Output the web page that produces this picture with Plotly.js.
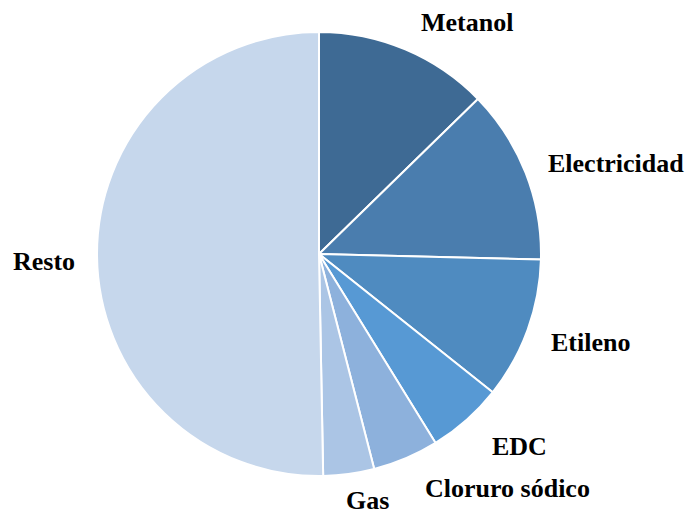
<!DOCTYPE html>
<html>
<head>
<meta charset="utf-8">
<script src="https://cdn.plot.ly/plotly-3.0.1.min.js"></script>
<style>html,body{margin:0;padding:0;background:#fff;}#chart{width:686px;height:515px;}</style>
</head>
<body>
<div id="chart"></div>
<script>
const categories = ["Metanol", "Electricidad", "Etileno", "EDC", "Cloruro sódico", "Gas", "Resto"];
const values = [12.7, 12.7, 10.3, 5.5, 4.8, 3.7, 50.3];
const colors = ["#3E6A94", "#4A7DAE", "#4F8BC0", "#5799D4", "#8DB1DC", "#ABC5E5", "#C6D7EC"];
// label anchor positions in pixels (x, y)
const labelPx = [[467, 22], [616, 163], [590, 342], [519, 446], [507, 488], [367, 500], [44, 261]];

const W = 686, H = 515;
const annotations = categories.map((c, i) => ({
  text: "<b>" + c + "</b>",
  x: labelPx[i][0] / W, y: 1 - labelPx[i][1] / H,
  xref: "paper", yref: "paper", showarrow: false,
  xanchor: "center", yanchor: "middle",
  borderpad: 0,
  font: {family: "Times New Roman, Liberation Serif, serif", size: 26, color: "#000"}
}));

Plotly.newPlot("chart", [{
  type: "pie",
  labels: categories,
  values: values,
  sort: false,
  direction: "clockwise",
  rotation: 0,
  textinfo: "none",
  hoverinfo: "label+percent",
  marker: {colors: colors, line: {color: "#ffffff", width: 2}},
  domain: {x: [97 / W, 541 / W], y: [1 - 476 / H, 1 - 32 / H]},
  showlegend: false
}], {
  width: W, height: H,
  margin: {l: 0, r: 0, t: 0, b: 0},
  paper_bgcolor: "#ffffff",
  showlegend: false,
  annotations: annotations
}, {displayModeBar: false, staticPlot: true});
</script>
</body>
</html>
